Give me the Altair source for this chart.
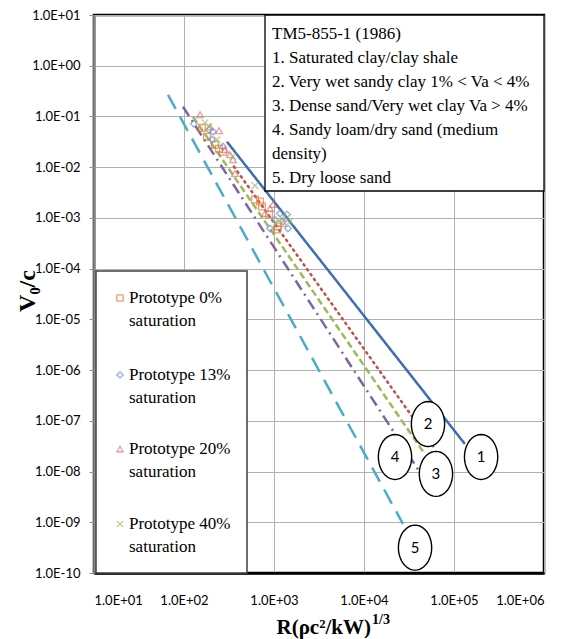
import math
import altair as alt
import pandas as pd

# ---------------- data ----------------
series_names = ["Prototype 0% saturation", "Prototype 13% saturation",
                "Prototype 20% saturation", "Prototype 40% saturation"]
series_colors = ["#E8772E", "#6A8FD0", "#D9777C", "#9BBB59"]

p0_x = [158, 180, 221, 245, 271, 615, 699, 735, 880, 1107, 1080]
p0_y = [0.060, 0.040, 0.0277, 0.0232, 0.0202, 0.0023, 0.0021, 0.00168, 0.00117, 0.00068, 0.00059]
p13_x = [129, 190, 210, 205, 271, 1166, 1393, 1259, 903, 1431, 1026]
p13_y = [0.0718, 0.0547, 0.050, 0.0348, 0.0254, 0.00122, 0.00117, 0.00085, 0.00062, 0.00062, 0.00093]
p20_x = [151, 245, 194, 286, 325, 350, 369, 794, 903, 975, 1259]
p20_y = [0.108, 0.0524, 0.0627, 0.0221, 0.0177, 0.0141, 0.0075, 0.00122, 0.00153, 0.00184, 0.00078]
p40_x = [171, 190, 233, 350, 615, 1227, 1052, 1506]
p40_y = [0.0752, 0.0627, 0.0348, 0.0161, 0.00434, 0.00098, 0.00078, 0.00085]

line_ids = ["1", "2", "3", "4", "5"]
line_x_start = [300, 359, 126, 97.5, 66.4]
line_y_start = [0.0318, 0.0103, 0.0986, 0.155, 0.267]
line_x_end = [1.32e5, 6.3e4, 4.64e4, 4.08e4, 2.71e4]
line_y_end = [3.5e-8, 2.67e-8, 2.33e-8, 1.03e-8, 9.3e-10]
line_colors = ["#3F6DB3", "#C0504D", "#9BBB59", "#8064A2", "#4BACC6"]
line_dashes = [[1, 0], [1.5, 4.5], [7, 3.5], [11, 5, 2, 5], [16, 9]]

label_ids = ["1", "2", "3", "4", "5"]
label_x = [2.0e5, 5.14e4, 6.3e4, 2.21e4, 3.69e4]
label_y = [1.94e-8, 8.65e-8, 9.0e-9, 1.94e-8, 3.16e-10]

box_lines = ["TM5-855-1 (1986)",
             "1. Saturated clay/clay shale",
             "2. Very wet sandy clay 1% < Va < 4%",
             "3. Dense sand/Very wet clay Va > 4%",
             "4. Sandy loam/dry sand  (medium",
             "density)",
             "5. Dry loose sand"]

x_ticks = [1e1, 1e2, 1e3, 1e4, 1e5, 1e6]
y_ticks = [10.0 ** k for k in range(-10, 2)]

# ---------------- tables ----------------
pts = []
for name, xs, ys in zip(series_names, [p0_x, p13_x, p20_x, p40_x], [p0_y, p13_y, p20_y, p40_y]):
    for a, b in zip(xs, ys):
        pts.append({"series": name, "x": a, "y": b})
pts = pd.DataFrame(pts)

SERIF = "Liberation Serif"
SERIF_REG = "Times New Roman"
SANS = "Lato"

W, H = 450, 558
label_expr = ("'1.0E' + (datum.value < 1 ? '-' : '+') + "
              "(abs(round(log(datum.value)/LN10)) < 10 ? '0' : '') + "
              "abs(round(log(datum.value)/LN10))")

xscale = alt.Scale(type="log", domain=[1e1, 1e6], nice=False)
yscale = alt.Scale(type="log", domain=[1e-10, 1e1], nice=False)

xaxis = alt.Axis(values=x_ticks, labelExpr=label_expr, grid=True, gridColor="#B0B0B0",
                 gridWidth=1, tickSize=0, labelPadding=21, labelFont=SANS,
                 labelFontSize=13, labelColor="black",
                 domainColor="black", domainWidth=2.5, title=None)
yaxis = alt.Axis(values=y_ticks, labelExpr=label_expr, grid=True, gridColor="#B0B0B0",
                 gridWidth=1, tickSize=5, tickColor="#909090", labelPadding=9,
                 labelFont=SANS, labelFontSize=13, labelColor="black",
                 domainColor="#8A8A8A", domainWidth=2.5, title=None)

base_x = alt.X("x:Q", scale=xscale, axis=xaxis)
base_y = alt.Y("y:Q", scale=yscale, axis=yaxis)

layers = []

# reference lines
for lid, xs, ys, xe, ye, col, dash in zip(line_ids, line_x_start, line_y_start,
                                          line_x_end, line_y_end, line_colors, line_dashes):
    df = pd.DataFrame({"x": [xs, xe], "y": [ys, ye], "line": [lid, lid]})
    cap = "round" if lid == "2" else "butt"
    layers.append(alt.Chart(df).mark_line(color=col, strokeWidth=2.5, strokeDash=dash,
                                          strokeCap=cap).encode(x=base_x, y=base_y))

xpath = "M-1,-1L1,1M-1,1L1,-1"
shapes = ["square", "diamond", "triangle-up", xpath]

layers.append(alt.Chart(pts).mark_point(filled=False, strokeWidth=1.3, size=45).encode(
    x=base_x, y=base_y,
    color=alt.Color("series:N", scale=alt.Scale(domain=series_names, range=series_colors), legend=None),
    shape=alt.Shape("series:N", scale=alt.Scale(domain=series_names, range=shapes), legend=None)))

# ellipse labels
n = 40
ell = "M" + "L".join(f"{0.74*math.cos(2*math.pi*i/n):.3f},{math.sin(2*math.pi*i/n):.3f}" for i in range(n)) + "Z"
lab = pd.DataFrame({"id": label_ids, "x": label_x, "y": label_y})
layers.append(alt.Chart(lab).mark_point(shape=ell, size=2025, filled=False, fill="white",
                                        fillOpacity=1, stroke="black", strokeWidth=1.4,
                                        opacity=1).encode(x=base_x, y=base_y))
layers.append(alt.Chart(lab).mark_text(font=SANS, fontSize=15, color="black").encode(
    x=base_x, y=base_y, text="id:N"))

one = pd.DataFrame({"a": [0]})

# text box
layers.append(alt.Chart(one).mark_rect(fill="white", stroke="black", strokeWidth=1.3).encode(
    x=alt.value(171), x2=alt.value(W), y=alt.value(0), y2=alt.value(176)))
for i, t in enumerate(box_lines):
    layers.append(alt.Chart(one).mark_text(align="left", baseline="middle", font=SERIF_REG,
                                           fontStyle="normal", fontSize=17, color="black").encode(
        x=alt.value(178), y=alt.value(19 + 24 * i), text=alt.value(t)))

# legend box
layers.append(alt.Chart(one).mark_rect(fill="white", stroke="#404040", strokeWidth=1.5).encode(
    x=alt.value(2), x2=alt.value(153), y=alt.value(256), y2=alt.value(H)))
leg_y = [283, 360, 434, 509]
for name, col, shp, ly in zip(series_names, series_colors, shapes, leg_y):
    layers.append(alt.Chart(one).mark_point(filled=False, strokeWidth=1.3, size=40,
                                            shape=shp, color=col).encode(
        x=alt.value(26), y=alt.value(ly)))
    first, second = name.rsplit(" ", 1)
    for j, t in enumerate([first, second]):
        layers.append(alt.Chart(one).mark_text(align="left", baseline="middle", font=SERIF_REG,
                                               fontStyle="normal", fontSize=17, color="black").encode(
            x=alt.value(35), y=alt.value(ly + 23 * j), text=alt.value(t)))

# axis titles
layers.append(alt.Chart(one).mark_text(font=SERIF, fontSize=24, fontWeight="bold",
                                       angle=270, color="black").encode(
    x=alt.value(-66), y=alt.value(276), text=alt.value("V₀/c")))
layers.append(alt.Chart(one).mark_text(font=SERIF, fontSize=21, fontWeight="bold",
                                       align="right", baseline="alphabetic", color="black").encode(
    x=alt.value(277), y=alt.value(619), text=alt.value("R(ρc²/kW)")))
layers.append(alt.Chart(one).mark_text(font=SERIF, fontSize=14, fontWeight="bold",
                                       align="left", baseline="alphabetic", color="black").encode(
    x=alt.value(278), y=alt.value(609), text=alt.value("1/3")))

chart = alt.layer(*layers).properties(
    width=W, height=H,
    autosize=alt.AutoSizeParams(type="none"),
    padding={"left": 86, "top": 7, "right": 23, "bottom": 66},
).configure_view(stroke="black", strokeWidth=2.5)

chart.save("out.html", embed_options={"renderer": "svg", "actions": False})
